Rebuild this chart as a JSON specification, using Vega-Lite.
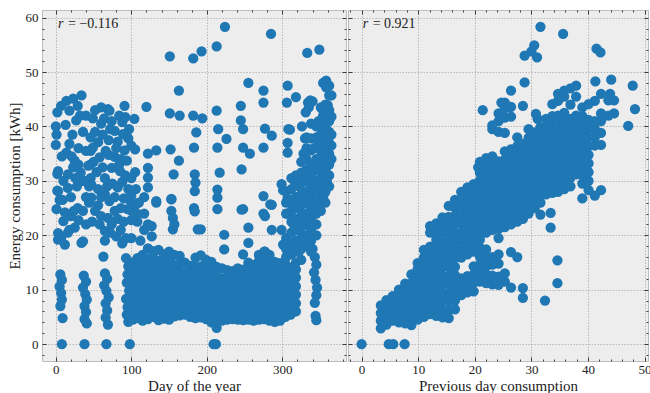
{
"$schema": "https://vega.github.io/schema/vega-lite/v6.json",
"padding": {"left": 6, "top": 9, "right": 0, "bottom": 0},
"spacing": 0,
"config": {
  "font": "Liberation Serif",
  "view": {"fill": "#ededed", "stroke": "#bcbcbc", "strokeWidth": 1},
  "axis": {"domain": false, "grid": true, "gridColor": "#a9a9a9", "gridDash": [1.5, 1.5], "gridWidth": 0.8, "tickColor": "#111111", "tickWidth": 0.8, "labelFont": "Liberation Serif", "labelFontSize": 13, "labelColor": "#222222", "labelFlush": false, "labelOverlap": false, "labelPadding": 8, "titleFont": "Liberation Serif", "titleFontSize": 15, "titleFontWeight": "normal", "titleColor": "#222222", "titlePadding": 3},
  "axisX": {"labelPadding": 6, "titlePadding": 0}
},
"datasets": {
"a": [
{"d":8,"e":0},{"d":38,"e":0},{"d":67,"e":0},{"d":98,"e":0},{"d":209,"e":0},{"d":212,"e":0},
{"d":6,"e":12.8},{"d":8,"e":11.8},{"d":5,"e":10.6},{"d":7,"e":9.4},{"d":8,"e":8.2},{"d":6,"e":7.0},{"d":9,"e":4.8},
{"d":37,"e":12.6},{"d":40,"e":11.5},{"d":36,"e":10.4},{"d":39,"e":9.2},{"d":41,"e":8.2},{"d":38,"e":7.0},{"d":40,"e":5.9},{"d":38,"e":4.6},{"d":41,"e":3.8},
{"d":65,"e":13},{"d":68,"e":12},{"d":64,"e":10.8},{"d":67,"e":9.8},{"d":70,"e":8.6},{"d":66,"e":7.5},{"d":68,"e":6.2},{"d":66,"e":4.9},{"d":69,"e":3.6},
{"d":93,"e":15.8},{"d":96,"e":14.3},{"d":95,"e":12.8},{"d":94,"e":11.3},{"d":97,"e":9.8},{"d":93,"e":8.3},{"d":95,"e":6.8},{"d":94,"e":5.4},{"d":96,"e":4.1},
{"d":102,"e":4.5},{"d":102,"e":6.0},{"d":102,"e":7.6},{"d":102,"e":9.1},{"d":102,"e":10.7},{"d":102,"e":12.2},{"d":102,"e":13.6},{"d":102,"e":15.0},
{"d":108,"e":4.8},{"d":108,"e":6.4},{"d":108,"e":8.0},{"d":108,"e":9.5},{"d":108,"e":11.0},{"d":108,"e":12.6},{"d":108,"e":14.2},{"d":108,"e":15.8},
{"d":115,"e":4.3},{"d":115,"e":5.8},{"d":115,"e":7.3},{"d":115,"e":8.9},{"d":115,"e":10.4},{"d":115,"e":12.0},{"d":115,"e":13.5},{"d":115,"e":15.0},{"d":115,"e":16.4},
{"d":122,"e":4.6},{"d":122,"e":6.2},{"d":122,"e":7.8},{"d":122,"e":9.4},{"d":122,"e":11.0},{"d":122,"e":12.5},{"d":122,"e":14.1},{"d":122,"e":15.7},{"d":122,"e":17.6},
{"d":129,"e":5.0},{"d":129,"e":6.5},{"d":129,"e":8.1},{"d":129,"e":9.6},{"d":129,"e":11.2},{"d":129,"e":12.8},{"d":129,"e":14.4},{"d":129,"e":15.9},{"d":129,"e":17.1},
{"d":136,"e":4.4},{"d":136,"e":5.9},{"d":136,"e":7.5},{"d":136,"e":9.0},{"d":136,"e":10.6},{"d":136,"e":12.1},{"d":136,"e":13.7},{"d":136,"e":15.3},{"d":136,"e":17.3},
{"d":143,"e":4.7},{"d":143,"e":6.3},{"d":143,"e":7.8},{"d":143,"e":9.4},{"d":143,"e":11.0},{"d":143,"e":12.5},{"d":143,"e":14.0},{"d":143,"e":15.6},{"d":143,"e":16.5},
{"d":150,"e":4.5},{"d":150,"e":6.0},{"d":150,"e":7.6},{"d":150,"e":9.2},{"d":150,"e":10.8},{"d":150,"e":12.3},{"d":150,"e":13.9},{"d":150,"e":15.5},{"d":150,"e":17.0},
{"d":157,"e":5.1},{"d":157,"e":6.7},{"d":157,"e":8.2},{"d":157,"e":9.8},{"d":157,"e":11.3},{"d":157,"e":12.9},{"d":157,"e":14.5},{"d":157,"e":16.4},
{"d":164,"e":5.3},{"d":164,"e":6.9},{"d":164,"e":8.4},{"d":164,"e":10.0},{"d":164,"e":11.6},{"d":164,"e":13.1},{"d":164,"e":14.7},{"d":164,"e":16.2},
{"d":171,"e":5.4},{"d":171,"e":7.0},{"d":171,"e":8.5},{"d":171,"e":10.1},{"d":171,"e":11.6},{"d":171,"e":13.2},{"d":171,"e":15.0},
{"d":178,"e":5.0},{"d":178,"e":6.6},{"d":178,"e":8.1},{"d":178,"e":9.7},{"d":178,"e":11.3},{"d":178,"e":12.8},{"d":178,"e":14.4},
{"d":185,"e":4.8},{"d":185,"e":6.4},{"d":185,"e":7.9},{"d":185,"e":9.5},{"d":185,"e":11.0},{"d":185,"e":12.6},{"d":185,"e":14.2},{"d":185,"e":15.9},
{"d":192,"e":4.9},{"d":192,"e":6.5},{"d":192,"e":8.0},{"d":192,"e":9.6},{"d":192,"e":11.2},{"d":192,"e":12.7},{"d":192,"e":14.3},{"d":192,"e":16.3},
{"d":199,"e":4.6},{"d":199,"e":6.2},{"d":199,"e":7.8},{"d":199,"e":9.3},{"d":199,"e":10.9},{"d":199,"e":12.4},{"d":199,"e":14.0},{"d":199,"e":15.5},
{"d":206,"e":4.0},{"d":206,"e":5.6},{"d":206,"e":7.2},{"d":206,"e":8.8},{"d":206,"e":10.3},{"d":206,"e":11.9},{"d":206,"e":13.5},{"d":206,"e":15.1},
{"d":213,"e":3.0},{"d":213,"e":4.6},{"d":213,"e":6.1},{"d":213,"e":7.7},{"d":213,"e":9.3},{"d":213,"e":10.8},{"d":213,"e":12.4},{"d":213,"e":14.2},
{"d":220,"e":4.3},{"d":220,"e":5.9},{"d":220,"e":7.5},{"d":220,"e":9.0},{"d":220,"e":10.6},{"d":220,"e":12.1},{"d":220,"e":13.9},
{"d":227,"e":4.5},{"d":227,"e":6.0},{"d":227,"e":7.6},{"d":227,"e":9.1},{"d":227,"e":10.7},{"d":227,"e":12.2},{"d":227,"e":13.6},
{"d":234,"e":4.6},{"d":234,"e":6.1},{"d":234,"e":7.7},{"d":234,"e":9.3},{"d":234,"e":10.8},{"d":234,"e":12.3},{"d":234,"e":13.4},
{"d":241,"e":4.5},{"d":241,"e":6.1},{"d":241,"e":7.6},{"d":241,"e":9.2},{"d":241,"e":10.7},{"d":241,"e":12.3},{"d":241,"e":13.9},
{"d":248,"e":4.4},{"d":248,"e":6.0},{"d":248,"e":7.5},{"d":248,"e":9.1},{"d":248,"e":10.6},{"d":248,"e":12.2},{"d":248,"e":13.7},
{"d":255,"e":4.5},{"d":255,"e":6.1},{"d":255,"e":7.7},{"d":255,"e":9.2},{"d":255,"e":10.8},{"d":255,"e":12.4},{"d":255,"e":13.9},{"d":255,"e":15.0},
{"d":262,"e":4.3},{"d":262,"e":5.9},{"d":262,"e":7.4},{"d":262,"e":9.0},{"d":262,"e":10.5},{"d":262,"e":12.1},{"d":262,"e":13.6},{"d":262,"e":14.5},
{"d":269,"e":4.5},{"d":269,"e":6.0},{"d":269,"e":7.6},{"d":269,"e":9.1},{"d":269,"e":10.7},{"d":269,"e":12.3},{"d":269,"e":13.8},{"d":269,"e":15.3},{"d":269,"e":16.4},
{"d":276,"e":4.6},{"d":276,"e":6.2},{"d":276,"e":7.7},{"d":276,"e":9.3},{"d":276,"e":10.8},{"d":276,"e":12.4},{"d":276,"e":14.0},{"d":276,"e":15.5},{"d":276,"e":17.0},
{"d":283,"e":4.3},{"d":283,"e":5.9},{"d":283,"e":7.5},{"d":283,"e":9.0},{"d":283,"e":10.6},{"d":283,"e":12.1},{"d":283,"e":13.7},{"d":283,"e":15.2},{"d":283,"e":16.4},
{"d":290,"e":4.1},{"d":290,"e":5.7},{"d":290,"e":7.2},{"d":290,"e":8.8},{"d":290,"e":10.4},{"d":290,"e":11.9},{"d":290,"e":13.5},{"d":290,"e":15.1},
{"d":297,"e":4.3},{"d":297,"e":5.8},{"d":297,"e":7.4},{"d":297,"e":9.0},{"d":297,"e":10.5},{"d":297,"e":12.1},{"d":297,"e":13.6},{"d":297,"e":14.9},
{"d":304,"e":5.0},{"d":304,"e":6.5},{"d":304,"e":8.1},{"d":304,"e":9.7},{"d":304,"e":11.2},{"d":304,"e":12.8},{"d":304,"e":14.3},
{"d":311,"e":5.4},{"d":311,"e":7.0},{"d":311,"e":8.5},{"d":311,"e":10.1},{"d":311,"e":11.6},{"d":311,"e":13.2},{"d":311,"e":14.0},
{"d":318,"e":6.0},{"d":318,"e":7.5},{"d":318,"e":9.1},{"d":318,"e":10.6},{"d":318,"e":12.2},{"d":318,"e":13.7},
{"d":340,"e":17.5},{"d":343,"e":16},{"d":345,"e":14.6},{"d":342,"e":13.2},{"d":344,"e":11.8},{"d":346,"e":10.4},{"d":345,"e":9.0},{"d":343,"e":7.6},{"d":344,"e":5.2},{"d":345,"e":4.4},
{"d":2,"e":42.6},{"d":0,"e":40.0},{"d":1,"e":38.5},{"d":0,"e":36.6},{"d":2,"e":31.3},{"d":2,"e":28.2},{"d":7,"e":43.8},{"d":14,"e":44.7},{"d":23,"e":45.1},{"d":29,"e":43.8},{"d":18,"e":42.9},{"d":32,"e":42.0},{"d":27,"e":41.1},{"d":34,"e":45.7},{"d":13,"e":40.3},{"d":18,"e":36.8},{"d":14,"e":35.2},{"d":25,"e":33.7},{"d":23,"e":32.5},{"d":21,"e":34.5},{"d":3,"e":31.8},{"d":16,"e":31.2},{"d":3,"e":28.1},{"d":16,"e":28.7},{"d":33,"e":31.5},{"d":34,"e":30.0},{"d":28,"e":29},{"d":9,"e":26.5},{"d":20,"e":27},{"d":1,"e":24.8},{"d":10,"e":22.6},{"d":3,"e":20.4},{"d":3,"e":19.2},{"d":12,"e":18.3},{"d":29,"e":25},{"d":25,"e":21.4},{"d":36,"e":18.9},{"d":40,"e":22},{"d":7,"e":19.5},{"d":30,"e":22.8},{"d":34,"e":18.6},{"d":36,"e":24.5},{"d":12,"e":24.2},{"d":20,"e":23.5},{"d":18,"e":21},{"d":44,"e":26},
{"d":22,"e":38.5},{"d":30,"e":36},{"d":36,"e":39},{"d":40,"e":42},{"d":52,"e":43},{"d":64,"e":41.5},{"d":74,"e":41},{"d":84,"e":42},{"d":97,"e":39.5},{"d":100,"e":36.5},{"d":96,"e":37.8},{"d":88,"e":40.8},{"d":72,"e":39.5},{"d":62,"e":38.5},{"d":52,"e":39},{"d":40,"e":35.5},{"d":30,"e":33},{"d":38,"e":30},{"d":26,"e":30.5},{"d":10,"e":30},{"d":8,"e":34.5},{"d":5,"e":26.5},{"d":24,"e":24.5},{"d":16,"e":20.5},{"d":40,"e":27},{"d":44,"e":29},{"d":50,"e":33.5},{"d":70,"e":34.8},{"d":84,"e":33},{"d":92,"e":31},{"d":96,"e":28.5},{"d":106,"e":28.5},{"d":110,"e":26},{"d":90,"e":26.8},{"d":78,"e":27},{"d":68,"e":29},{"d":58,"e":22},{"d":80,"e":19.8},{"d":88,"e":18.5},{"d":100,"e":19.5},{"d":112,"e":19},{"d":72,"e":20.5},
{"d":46,"e":30.5},{"d":46,"e":33},{"d":46,"e":35.5},{"d":46,"e":38},{"d":60,"e":43.5},{"d":69,"e":43.2},{"d":71,"e":42.9},{"d":49,"e":41.5},{"d":60,"e":40.5},{"d":91,"e":43.8},{"d":92,"e":41.7},{"d":104,"e":41.4},{"d":105,"e":35.8},{"d":105,"e":31.6},{"d":120,"e":43.6},
{"d":78,"e":39.2},{"d":89,"e":38.6},{"d":82,"e":37.2},{"d":91,"e":35.6},{"d":78,"e":34.4},{"d":94,"e":33.7},{"d":85,"e":31.8},{"d":74,"e":32.4},{"d":56,"e":37.1},{"d":49,"e":36.1},{"d":66,"e":35.5},{"d":70,"e":37.5},{"d":58,"e":34.3},{"d":43,"e":32.8},{"d":54,"e":31.6},{"d":65,"e":30.5},{"d":75,"e":29.5},{"d":88,"e":29.8},{"d":100,"e":30.5},{"d":62,"e":32.5},{"d":80,"e":36},{"d":86,"e":34},
{"d":47,"e":29.3},{"d":47,"e":26.9},{"d":65,"e":27.5},{"d":71,"e":26.3},{"d":82,"e":28.8},{"d":86,"e":25.0},{"d":100,"e":27.2},{"d":100,"e":24.5},{"d":56,"e":25.5},{"d":60,"e":27.0},{"d":52,"e":24.5},{"d":56,"e":28.5},
{"d":69,"e":23.2},{"d":82,"e":23},{"d":93,"e":19.5},{"d":65,"e":20.8},{"d":65,"e":19},{"d":74,"e":22},{"d":78,"e":24.5},{"d":90,"e":22.5},{"d":95,"e":24.8},{"d":100,"e":22.8},{"d":105,"e":25.5},{"d":108,"e":22.5},{"d":109,"e":23.9},{"d":117,"e":21},{"d":117,"e":24},{"d":117,"e":27},{"d":122,"e":22},{"d":127,"e":21.7},{"d":133,"e":26},{"d":127,"e":19.8},{"d":98,"e":26.5},{"d":63,"e":16.1},{"d":86,"e":21},{"d":60,"e":23.5},{"d":48,"e":22.5},
{"d":122,"e":35.0},{"d":133,"e":35.6},{"d":122,"e":32.4},{"d":122,"e":30.6},{"d":122,"e":28.8},{"d":133,"e":26.3},{"d":153,"e":26.6},{"d":153,"e":24.5},{"d":155,"e":23.2},{"d":155,"e":21.1},{"d":157,"e":22.0},
{"d":151,"e":52.9},{"d":182,"e":52.5},{"d":193,"e":53.8},{"d":213,"e":54.7},{"d":224,"e":58.3},{"d":285,"e":57.0},{"d":333,"e":53.5},{"d":349,"e":54.1},
{"d":151,"e":42.4},{"d":164,"e":42.0},{"d":163,"e":46.6},{"d":163,"e":33.7},{"d":152,"e":35.8},{"d":156,"e":31.2},{"d":182,"e":42.0},{"d":194,"e":41.5},{"d":186,"e":38.9},{"d":183,"e":36.1},{"d":184,"e":31.2},{"d":185,"e":29.7},{"d":184,"e":28.1},{"d":183,"e":25.0},{"d":213,"e":42.9},{"d":215,"e":39.5},{"d":226,"e":37.7},{"d":214,"e":36.1},{"d":217,"e":31.5},{"d":214,"e":28.4},{"d":245,"e":43.8},{"d":245,"e":41.1},{"d":248,"e":39.5},{"d":248,"e":36.1},{"d":257,"e":35.0},{"d":246,"e":32.1},{"d":255,"e":48.0},{"d":275,"e":46.6},{"d":275,"e":44.4},{"d":277,"e":39.6},{"d":286,"e":38.3},{"d":275,"e":36.1},{"d":153,"e":26.7},{"d":188,"e":21.1},{"d":192,"e":21.1},{"d":214,"e":26.9},{"d":214,"e":24.8},{"d":223,"e":20.1},{"d":223,"e":17.4},{"d":248,"e":24.8},{"d":248,"e":16.5},{"d":255,"e":21.4},{"d":255,"e":18.6},{"d":275,"e":27.2},{"d":277,"e":23.5},{"d":286,"e":25.6},{"d":286,"e":21.0},{"d":277,"e":17.0},{"d":279,"e":15.8},{"d":299,"e":21.0},{"d":301,"e":18.3},{"d":246,"e":24.7},{"d":284,"e":25.7},{"d":275,"e":24},{"d":184,"e":24.4},
{"d":307,"e":47.5},{"d":306,"e":44.4},{"d":318,"e":45.4},{"d":310,"e":39.4},{"d":307,"e":37.0},{"d":307,"e":35.2},{"d":299,"e":29.4},{"d":337,"e":44.8},{"d":335,"e":43.5},{"d":326,"e":40.0},{"d":330,"e":37.8},{"d":358,"e":48.4},{"d":354,"e":48.0},{"d":365,"e":45.7},{"d":365,"e":41.8},{"d":352,"e":43.3},{"d":340,"e":44.6},{"d":334,"e":44.4},{"d":331,"e":42.6},{"d":351,"e":43.5},{"d":356,"e":48.1},{"d":358,"e":47.2},{"d":362,"e":45.7},{"d":360,"e":43.9},{"d":362,"e":42.3},{"d":308,"e":39.5},{"d":317,"e":29.5},{"d":301,"e":28.3},{"d":307,"e":26.7},{"d":307,"e":24.0},
{"d":305,"e":14.5},{"d":305,"e":16.0},{"d":305,"e":17.5},{"d":305,"e":19.5},{"d":305,"e":24.0},{"d":305,"e":26.0},{"d":305,"e":28.0},
{"d":312,"e":16.5},{"d":312,"e":18.5},{"d":312,"e":20.5},{"d":312,"e":22.5},{"d":312,"e":24.5},{"d":312,"e":26.5},{"d":312,"e":28.5},{"d":312,"e":30.5},
{"d":318,"e":15.0},{"d":318,"e":17.0},{"d":318,"e":19.0},{"d":318,"e":21.0},{"d":318,"e":23.0},{"d":318,"e":25.0},{"d":318,"e":27.0},{"d":318,"e":31.0},
{"d":325,"e":15.5},{"d":325,"e":17.5},{"d":325,"e":19.5},{"d":325,"e":21.5},{"d":325,"e":23.5},{"d":325,"e":25.5},{"d":325,"e":27.5},{"d":325,"e":29.5},{"d":325,"e":31.5},{"d":325,"e":33.5},
{"d":332,"e":18},{"d":332,"e":20},{"d":332,"e":22},{"d":332,"e":24},{"d":332,"e":26},{"d":332,"e":28},{"d":332,"e":30},{"d":332,"e":32},{"d":332,"e":34},{"d":332,"e":36},{"d":332,"e":38},
{"d":338,"e":17},{"d":338,"e":19},{"d":338,"e":21},{"d":338,"e":23},{"d":338,"e":25},{"d":338,"e":27},{"d":338,"e":29},{"d":338,"e":31},{"d":338,"e":33},{"d":338,"e":35.6},{"d":338,"e":37.8},{"d":338,"e":40.5},
{"d":345,"e":20},{"d":345,"e":22},{"d":345,"e":24},{"d":345,"e":26},{"d":345,"e":28},{"d":345,"e":30},{"d":345,"e":32},{"d":345,"e":34},{"d":345,"e":36},{"d":345,"e":38},{"d":345,"e":40},
{"d":351,"e":24.5},{"d":351,"e":26.5},{"d":351,"e":28.5},{"d":351,"e":30.5},{"d":351,"e":32.5},{"d":351,"e":34.5},{"d":351,"e":36.5},{"d":351,"e":38.5},{"d":351,"e":40.5},
{"d":357,"e":26},{"d":357,"e":28},{"d":357,"e":30},{"d":357,"e":32},{"d":357,"e":34},{"d":357,"e":36},{"d":357,"e":38},{"d":357,"e":40},{"d":357,"e":42},{"d":357,"e":44},
{"d":362,"e":29},{"d":362,"e":31},{"d":362,"e":33},{"d":362,"e":35},{"d":362,"e":37},{"d":362,"e":39},{"d":362,"e":41},{"d":362,"e":43},{"d":362,"e":47.5},
{"d":365,"e":34},{"d":365,"e":36.5},{"d":365,"e":38.5},
{"d":315,"e":18},{"d":315,"e":22},{"d":315,"e":26},{"d":322,"e":17},{"d":322,"e":21},{"d":322,"e":25},{"d":322,"e":29},{"d":328,"e":19},{"d":328,"e":23},{"d":328,"e":27},{"d":328,"e":31},{"d":328,"e":35},
{"d":342,"e":24},{"d":342,"e":28},{"d":342,"e":32},{"d":342,"e":36},{"d":348,"e":25},{"d":348,"e":29},{"d":348,"e":33},{"d":348,"e":37},{"d":348,"e":41},{"d":354,"e":27},{"d":354,"e":31},{"d":354,"e":35},{"d":354,"e":39},{"d":354,"e":42},{"d":359,"e":30},{"d":359,"e":34},{"d":359,"e":38},{"d":359,"e":42}
],
"b": [
{"p":0,"e":0},{"p":4.8,"e":0},{"p":5.6,"e":0},{"p":7.6,"e":0},
{"p":3.4,"e":2.9},{"p":3.4,"e":4.3},{"p":3.4,"e":5.7},{"p":3.4,"e":7.1},
{"p":4.4,"e":3.6},{"p":4.4,"e":5.0},{"p":4.4,"e":6.5},{"p":4.4,"e":8.1},
{"p":5.5,"e":4.3},{"p":5.5,"e":5.8},{"p":5.5,"e":7.3},{"p":5.5,"e":8.8},
{"p":6.6,"e":4.0},{"p":6.6,"e":5.5},{"p":6.6,"e":7.0},{"p":6.6,"e":8.5},{"p":6.6,"e":10.0},
{"p":7.7,"e":3.8},{"p":7.7,"e":5.3},{"p":7.7,"e":6.8},{"p":7.7,"e":8.3},{"p":7.7,"e":9.8},{"p":7.7,"e":11.1},
{"p":8.8,"e":3.5},{"p":8.8,"e":5.0},{"p":8.8,"e":6.6},{"p":8.8,"e":8.2},{"p":8.8,"e":9.7},{"p":8.8,"e":11.2},{"p":8.8,"e":12.8},
{"p":9.9,"e":4.5},{"p":9.9,"e":6.0},{"p":9.9,"e":7.6},{"p":9.9,"e":9.1},{"p":9.9,"e":10.7},{"p":9.9,"e":12.2},{"p":9.9,"e":13.8},{"p":9.9,"e":14.9},
{"p":11.0,"e":5.0},{"p":11.0,"e":6.6},{"p":11.0,"e":8.1},{"p":11.0,"e":9.7},{"p":11.0,"e":11.2},{"p":11.0,"e":12.8},{"p":11.0,"e":14.3},{"p":11.0,"e":15.9},{"p":11.0,"e":17.3},
{"p":12.1,"e":5.5},{"p":12.1,"e":7.1},{"p":12.1,"e":8.6},{"p":12.1,"e":10.2},{"p":12.1,"e":11.7},{"p":12.1,"e":13.3},{"p":12.1,"e":14.8},{"p":12.1,"e":16.4},{"p":12.1,"e":17.9},{"p":12.1,"e":20.5},{"p":12.1,"e":21.7},
{"p":13.2,"e":5.2},{"p":13.2,"e":6.8},{"p":13.2,"e":8.3},{"p":13.2,"e":9.9},{"p":13.2,"e":11.4},{"p":13.2,"e":13.0},{"p":13.2,"e":14.5},{"p":13.2,"e":16.1},{"p":13.2,"e":17.6},{"p":13.2,"e":19.2},{"p":13.2,"e":20.8},{"p":13.2,"e":22.2},
{"p":14.3,"e":4.9},{"p":14.3,"e":6.4},{"p":14.3,"e":8.0},{"p":14.3,"e":9.5},{"p":14.3,"e":11.1},{"p":14.3,"e":12.6},{"p":14.3,"e":14.2},{"p":14.3,"e":15.7},{"p":14.3,"e":17.3},{"p":14.3,"e":18.8},{"p":14.3,"e":20.4},{"p":14.3,"e":22.0},{"p":14.3,"e":23.3},
{"p":15.4,"e":4.8},{"p":15.4,"e":6.3},{"p":15.4,"e":7.9},{"p":15.4,"e":9.4},{"p":15.4,"e":11.0},{"p":15.4,"e":12.5},{"p":15.4,"e":14.1},{"p":15.4,"e":15.6},{"p":15.4,"e":17.2},{"p":15.4,"e":18.7},{"p":15.4,"e":20.3},{"p":15.4,"e":21.8},{"p":15.4,"e":23.4},{"p":15.4,"e":25.4},
{"p":16.5,"e":6.4},{"p":16.5,"e":8.0},{"p":16.5,"e":9.6},{"p":16.5,"e":11.1},{"p":16.5,"e":12.7},{"p":16.5,"e":14.2},{"p":16.5,"e":15.8},{"p":16.5,"e":17.3},{"p":16.5,"e":18.9},{"p":16.5,"e":20.4},{"p":16.5,"e":22.0},{"p":16.5,"e":23.5},{"p":16.5,"e":25.1},{"p":16.5,"e":26.5},
{"p":17.6,"e":9.0},{"p":17.6,"e":10.5},{"p":17.6,"e":12.1},{"p":17.6,"e":15.9},{"p":17.6,"e":17.4},{"p":17.6,"e":19.0},{"p":17.6,"e":20.5},{"p":17.6,"e":22.1},{"p":17.6,"e":23.6},{"p":17.6,"e":25.2},{"p":17.6,"e":26.7},{"p":17.6,"e":28.0},
{"p":18.7,"e":9.5},{"p":18.7,"e":11.0},{"p":18.7,"e":12.5},{"p":18.7,"e":16.5},{"p":18.7,"e":18.0},{"p":18.7,"e":19.6},{"p":18.7,"e":21.1},{"p":18.7,"e":22.7},{"p":18.7,"e":24.2},{"p":18.7,"e":25.8},{"p":18.7,"e":27.3},{"p":18.7,"e":28.8},
{"p":19.8,"e":9.7},{"p":19.8,"e":11.3},{"p":19.8,"e":12.8},{"p":19.8,"e":14.3},{"p":19.8,"e":17.0},{"p":19.8,"e":18.5},{"p":19.8,"e":20.1},{"p":19.8,"e":21.6},{"p":19.8,"e":23.2},{"p":19.8,"e":24.7},{"p":19.8,"e":26.3},{"p":19.8,"e":27.8},{"p":19.8,"e":29.4},
{"p":20.9,"e":11.5},{"p":20.9,"e":13.0},{"p":20.9,"e":14.6},{"p":20.9,"e":16.1},{"p":20.9,"e":17.7},{"p":20.9,"e":19.2},{"p":20.9,"e":20.8},{"p":20.9,"e":22.3},{"p":20.9,"e":23.9},{"p":20.9,"e":25.4},{"p":20.9,"e":27.0},{"p":20.9,"e":28.5},{"p":20.9,"e":30.1},{"p":20.9,"e":31.5},{"p":20.9,"e":33.5},
{"p":22.0,"e":11.2},{"p":22.0,"e":12.8},{"p":22.0,"e":14.3},{"p":22.0,"e":15.9},{"p":22.0,"e":17.4},{"p":22.0,"e":20.5},{"p":22.0,"e":22.0},{"p":22.0,"e":23.6},{"p":22.0,"e":25.1},{"p":22.0,"e":26.7},{"p":22.0,"e":28.2},{"p":22.0,"e":29.8},{"p":22.0,"e":31.3},{"p":22.0,"e":32.9},{"p":22.0,"e":34.2},
{"p":23.1,"e":11.0},{"p":23.1,"e":12.6},{"p":23.1,"e":14.6},{"p":23.1,"e":16.0},{"p":23.1,"e":21.0},{"p":23.1,"e":22.5},{"p":23.1,"e":24.1},{"p":23.1,"e":25.6},{"p":23.1,"e":27.2},{"p":23.1,"e":28.7},{"p":23.1,"e":30.3},{"p":23.1,"e":31.8},{"p":23.1,"e":33.4},{"p":23.1,"e":34.5},{"p":23.1,"e":39.5},{"p":23.1,"e":40.2},
{"p":24.2,"e":10.9},{"p":24.2,"e":12.4},{"p":24.2,"e":14.8},{"p":24.2,"e":16.5},{"p":24.2,"e":19.5},{"p":24.2,"e":21.2},{"p":24.2,"e":22.8},{"p":24.2,"e":24.3},{"p":24.2,"e":25.9},{"p":24.2,"e":27.4},{"p":24.2,"e":29.0},{"p":24.2,"e":30.5},{"p":24.2,"e":32.1},{"p":24.2,"e":33.6},{"p":24.2,"e":39.0},{"p":24.2,"e":41.0},{"p":24.2,"e":42.4},
{"p":25.3,"e":11.5},{"p":25.3,"e":13.0},{"p":25.3,"e":21.5},{"p":25.3,"e":23.0},{"p":25.3,"e":24.6},{"p":25.3,"e":26.1},{"p":25.3,"e":27.7},{"p":25.3,"e":29.2},{"p":25.3,"e":30.8},{"p":25.3,"e":32.3},{"p":25.3,"e":33.9},{"p":25.3,"e":35.4},{"p":25.3,"e":38.8},{"p":25.3,"e":41.6},{"p":25.3,"e":43.3},{"p":25.3,"e":44.4},
{"p":26.4,"e":10.4},{"p":26.4,"e":16.9},{"p":26.4,"e":22.0},{"p":26.4,"e":23.5},{"p":26.4,"e":25.1},{"p":26.4,"e":26.6},{"p":26.4,"e":28.2},{"p":26.4,"e":29.7},{"p":26.4,"e":31.3},{"p":26.4,"e":32.8},{"p":26.4,"e":34.4},{"p":26.4,"e":35.8},{"p":26.4,"e":41.8},{"p":26.4,"e":43.6},{"p":26.4,"e":46.6},
{"p":27.5,"e":16.0},{"p":27.5,"e":22.5},{"p":27.5,"e":24.0},{"p":27.5,"e":25.6},{"p":27.5,"e":27.1},{"p":27.5,"e":28.7},{"p":27.5,"e":30.2},{"p":27.5,"e":31.8},{"p":27.5,"e":33.3},{"p":27.5,"e":34.9},{"p":27.5,"e":36.4},{"p":27.5,"e":38.0},
{"p":28.5,"e":8.5},{"p":28.5,"e":10.3},{"p":28.5,"e":23.0},{"p":28.5,"e":24.5},{"p":28.5,"e":26.1},{"p":28.5,"e":27.6},{"p":28.5,"e":29.2},{"p":28.5,"e":30.7},{"p":28.5,"e":32.3},{"p":28.5,"e":33.8},{"p":28.5,"e":35.4},{"p":28.5,"e":36.8},{"p":28.5,"e":43.8},{"p":28.8,"e":48.1},{"p":28.8,"e":53.0},
{"p":29.5,"e":24.0},{"p":29.5,"e":25.5},{"p":29.5,"e":27.1},{"p":29.5,"e":28.6},{"p":29.5,"e":30.2},{"p":29.5,"e":31.7},{"p":29.5,"e":33.3},{"p":29.5,"e":34.8},{"p":29.5,"e":36.4},{"p":29.5,"e":37.9},{"p":29.5,"e":39.5},{"p":30.0,"e":53.8},
{"p":30.6,"e":25.0},{"p":30.6,"e":26.5},{"p":30.6,"e":28.1},{"p":30.6,"e":29.6},{"p":30.6,"e":31.2},{"p":30.6,"e":32.7},{"p":30.6,"e":34.3},{"p":30.6,"e":35.8},{"p":30.6,"e":37.4},{"p":30.6,"e":38.9},{"p":31.1,"e":41.4},{"p":30.8,"e":42.3},{"p":30.5,"e":54.9},{"p":31.0,"e":52.7},
{"p":31.6,"e":23.8},{"p":31.6,"e":26.0},{"p":31.6,"e":27.5},{"p":31.6,"e":29.1},{"p":31.6,"e":30.6},{"p":31.6,"e":32.2},{"p":31.6,"e":33.7},{"p":31.6,"e":35.3},{"p":31.6,"e":36.8},{"p":31.6,"e":38.4},{"p":31.6,"e":39.9},{"p":31.6,"e":58.3},
{"p":32.4,"e":8.0},{"p":32.6,"e":27.5},{"p":32.6,"e":29.0},{"p":32.6,"e":30.6},{"p":32.6,"e":32.1},{"p":32.6,"e":33.7},{"p":32.6,"e":35.2},{"p":32.6,"e":36.8},{"p":32.6,"e":38.3},{"p":32.6,"e":39.9},{"p":32.6,"e":41.4},
{"p":33.4,"e":21.4},{"p":33.4,"e":24.1},{"p":33.7,"e":27.8},{"p":33.7,"e":29.4},{"p":33.7,"e":31.0},{"p":33.7,"e":32.5},{"p":33.7,"e":34.1},{"p":33.7,"e":35.6},{"p":33.7,"e":37.2},{"p":33.7,"e":38.7},{"p":33.7,"e":40.3},{"p":33.7,"e":41.9},{"p":33.7,"e":44.1},
{"p":34.6,"e":11.2},{"p":34.6,"e":15.4},{"p":34.7,"e":28.0},{"p":34.7,"e":29.6},{"p":34.7,"e":31.1},{"p":34.7,"e":32.7},{"p":34.7,"e":34.2},{"p":34.7,"e":35.8},{"p":34.7,"e":37.3},{"p":34.7,"e":38.9},{"p":34.7,"e":40.4},{"p":34.7,"e":42.0},{"p":34.7,"e":44.7},{"p":34.7,"e":46.0},
{"p":35.8,"e":28.5},{"p":35.8,"e":30.1},{"p":35.8,"e":31.6},{"p":35.8,"e":33.2},{"p":35.8,"e":34.7},{"p":35.8,"e":36.3},{"p":35.8,"e":37.8},{"p":35.8,"e":39.4},{"p":35.8,"e":40.9},{"p":35.8,"e":42.5},{"p":35.8,"e":45.5},{"p":35.8,"e":46.6},{"p":35.6,"e":57.0},
{"p":36.9,"e":29.0},{"p":36.9,"e":30.6},{"p":36.9,"e":32.1},{"p":36.9,"e":33.7},{"p":36.9,"e":35.2},{"p":36.9,"e":36.8},{"p":36.9,"e":38.3},{"p":36.9,"e":39.9},{"p":36.9,"e":41.4},{"p":36.9,"e":44.0},{"p":36.9,"e":47.0},
{"p":37.9,"e":31.2},{"p":37.9,"e":32.8},{"p":37.9,"e":34.3},{"p":37.9,"e":35.9},{"p":37.9,"e":37.4},{"p":37.9,"e":39.0},{"p":37.9,"e":40.5},{"p":37.9,"e":42.0},{"p":37.9,"e":45.5},{"p":37.9,"e":47.5},
{"p":39.0,"e":26.8},{"p":39.0,"e":29.5},{"p":39.0,"e":31.0},{"p":39.0,"e":32.6},{"p":39.0,"e":34.1},{"p":39.0,"e":35.7},{"p":39.0,"e":37.2},{"p":39.0,"e":38.8},{"p":39.0,"e":40.3},{"p":39.0,"e":41.9},{"p":39.0,"e":43.5},
{"p":40.1,"e":28.3},{"p":40.1,"e":30.0},{"p":40.1,"e":31.6},{"p":40.1,"e":33.2},{"p":40.1,"e":34.8},{"p":40.1,"e":36.4},{"p":40.1,"e":38.0},{"p":40.1,"e":39.6},{"p":40.1,"e":41.2},{"p":40.1,"e":44.1},
{"p":41.2,"e":27.3},{"p":41.2,"e":36.5},{"p":41.2,"e":38.0},{"p":41.2,"e":39.6},{"p":41.2,"e":41.0},{"p":41.2,"e":44.7},{"p":41.3,"e":48.3},{"p":41.5,"e":54.3},
{"p":42.3,"e":28.3},{"p":42.3,"e":36.6},{"p":42.3,"e":38.8},{"p":42.3,"e":41.0},{"p":42.3,"e":42.4},{"p":42.3,"e":46.0},{"p":42.2,"e":53.6},
{"p":43.6,"e":42.0},{"p":43.6,"e":44.8},{"p":43.9,"e":46.0},{"p":44.1,"e":48.6},{"p":44.6,"e":42.4},{"p":44.6,"e":44.8},
{"p":47.1,"e":40.1},{"p":47.9,"e":47.5},{"p":48.3,"e":43.2},
{"p":21.4,"e":43.0},{"p":24.7,"e":44.4},{"p":26.0,"e":43.6},{"p":20.6,"e":32.5},{"p":23.2,"e":33.7}
]
},
"hconcat": [
{
 "width": 304, "height": 351,
 "resolve": {"axis": {"x": "independent", "y": "independent"}},
 "layer": [
  {
   "data": {"name": "a"},
   "mark": {"type": "circle", "size": 105, "opacity": 1, "color": "#1f77b4"},
   "encoding": {
    "x": {"field": "d", "type": "quantitative", "scale": {"domain": [-18.3, 384.3], "nice": false, "zero": false},
      "axis": {"orient": "bottom", "title": "Day of the year", "values": [0,20,40,60,80,100,120,140,160,180,200,220,240,260,280,300,320,340,360,380],
        "labelExpr": "datum.value % 100 === 0 ? datum.label : ''",
        "tickSize": {"condition": {"test": "datum.value % 100 !== 0", "value": -2}, "value": -4},
        "gridOpacity": {"condition": {"test": "datum.value % 100 !== 0", "value": 0}, "value": 1}}},
    "y": {"field": "e", "type": "quantitative", "scale": {"domain": [-3.1, 61.4], "nice": false, "zero": false},
      "axis": {"orient": "left", "title": "Energy consumption [kWh]", "values": [-2,0,2,4,6,8,10,12,14,16,18,20,22,24,26,28,30,32,34,36,38,40,42,44,46,48,50,52,54,56,58,60],
        "labelExpr": "datum.value % 10 === 0 ? datum.label : ''",
        "tickSize": {"condition": {"test": "datum.value % 10 !== 0", "value": -2}, "value": -4},
        "gridOpacity": {"condition": {"test": "datum.value % 10 !== 0", "value": 0}, "value": 1}}}
   }
  },
  {
   "data": {"values": [{"t": "r"}]},
   "mark": {"type": "text", "text": "r", "fontStyle": "italic", "align": "left", "baseline": "middle", "fontSize": 14, "color": "#222222"},
   "encoding": {
    "x": {"datum": 3, "type": "quantitative", "scale": {"domain": [-18.3, 384.3], "nice": false, "zero": false},
      "axis": {"orient": "top", "title": null, "labels": false, "grid": false, "values": [0,20,40,60,80,100,120,140,160,180,200,220,240,260,280,300,320,340,360,380],
        "tickSize": {"condition": {"test": "datum.value % 100 !== 0", "value": -2}, "value": -4}}},
    "y": {"datum": 58.9, "type": "quantitative", "scale": {"domain": [-3.1, 61.4], "nice": false, "zero": false},
      "axis": {"orient": "right", "title": null, "labels": false, "grid": false, "values": [-2,0,2,4,6,8,10,12,14,16,18,20,22,24,26,28,30,32,34,36,38,40,42,44,46,48,50,52,54,56,58,60],
        "tickSize": {"condition": {"test": "datum.value % 10 !== 0", "value": -2}, "value": -4}}}
   }
  },
  {
   "data": {"values": [{"t": "v"}]},
   "mark": {"type": "text", "text": "= −0.116", "dx": 10, "align": "left", "baseline": "middle", "fontSize": 14, "color": "#222222"},
   "encoding": {
    "x": {"datum": 3, "type": "quantitative", "axis": null},
    "y": {"datum": 58.9, "type": "quantitative", "axis": null}
   }
  }
 ]
},
{
 "width": 300, "height": 351,
 "resolve": {"axis": {"x": "independent", "y": "independent"}},
 "layer": [
  {
   "data": {"name": "b"},
   "mark": {"type": "circle", "size": 105, "opacity": 1, "color": "#1f77b4"},
   "encoding": {
    "x": {"field": "p", "type": "quantitative", "scale": {"domain": [-2.4, 50.6], "nice": false, "zero": false},
      "axis": {"orient": "bottom", "title": "Previous day consumption", "values": [-2,0,2,4,6,8,10,12,14,16,18,20,22,24,26,28,30,32,34,36,38,40,42,44,46,48,50],
        "labelExpr": "datum.value % 10 === 0 ? datum.label : ''",
        "tickSize": {"condition": {"test": "datum.value % 10 !== 0", "value": -2}, "value": -4},
        "gridOpacity": {"condition": {"test": "datum.value % 10 !== 0", "value": 0}, "value": 1}}},
    "y": {"field": "e", "type": "quantitative", "scale": {"domain": [-3.1, 61.4], "nice": false, "zero": false},
      "axis": {"orient": "left", "title": null, "labels": false, "values": [-2,0,2,4,6,8,10,12,14,16,18,20,22,24,26,28,30,32,34,36,38,40,42,44,46,48,50,52,54,56,58,60],
        "tickSize": {"condition": {"test": "datum.value % 10 !== 0", "value": -2}, "value": -4},
        "gridOpacity": {"condition": {"test": "datum.value % 10 !== 0", "value": 0}, "value": 1}}}
   }
  },
  {
   "data": {"values": [{"t": "r"}]},
   "mark": {"type": "text", "text": "r", "fontStyle": "italic", "align": "left", "baseline": "middle", "fontSize": 14, "color": "#222222"},
   "encoding": {
    "x": {"datum": 0.2, "type": "quantitative", "scale": {"domain": [-2.4, 50.6], "nice": false, "zero": false},
      "axis": {"orient": "top", "title": null, "labels": false, "grid": false, "values": [-2,0,2,4,6,8,10,12,14,16,18,20,22,24,26,28,30,32,34,36,38,40,42,44,46,48,50],
        "tickSize": {"condition": {"test": "datum.value % 10 !== 0", "value": -2}, "value": -4}}},
    "y": {"datum": 58.9, "type": "quantitative", "scale": {"domain": [-3.1, 61.4], "nice": false, "zero": false},
      "axis": {"orient": "right", "title": null, "labels": false, "grid": false, "values": [-2,0,2,4,6,8,10,12,14,16,18,20,22,24,26,28,30,32,34,36,38,40,42,44,46,48,50,52,54,56,58,60],
        "tickSize": {"condition": {"test": "datum.value % 10 !== 0", "value": -2}, "value": -4}}}
   }
  },
  {
   "data": {"values": [{"t": "v"}]},
   "mark": {"type": "text", "text": "= 0.921", "dx": 10, "align": "left", "baseline": "middle", "fontSize": 14, "color": "#222222"},
   "encoding": {
    "x": {"datum": 0.2, "type": "quantitative", "axis": null},
    "y": {"datum": 58.9, "type": "quantitative", "axis": null}
   }
  }
 ]
}
]
}
